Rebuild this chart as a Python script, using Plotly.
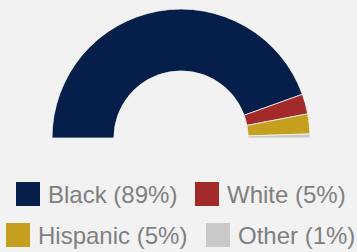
import plotly.graph_objects as go

# ---- data ----
labels = ["Black", "White", "Hispanic", "Other"]
shares = [89, 5, 5, 1]
colors = ["#061f4a", "#a32a2a", "#c4a01e", "#c9c9c9"]

W, H = 357, 252
BG = "#f2f2f2"

total = sum(shares)
widths = [s / total * 180.0 for s in shares]
centers = []
acc = 0.0
for w in widths:
    centers.append(acc + w / 2)
    acc += w

fig = go.Figure()
fig.add_trace(go.Barpolar(
    r=[1] * len(shares),
    theta=centers,
    width=widths,
    marker=dict(color=colors, line=dict(color="#f4f4f4", width=0.8)),
    text=labels,
    hoverinfo="text",
    showlegend=False,
))

# pixel helpers (legend layout)
def px(x):
    return x / W

def py(y):
    return 1 - y / H

# legend positions (square left x, row center y)
legend_pos = [(16, 194), (195, 194), (6, 235), (206, 235)]
SQ = 24
shapes = []
annotations = []
for lab, s, c, (x0, yc) in zip(labels, shares, colors, legend_pos):
    shapes.append(dict(type="rect", xref="paper", yref="paper",
                       x0=px(x0), x1=px(x0 + SQ), y0=py(yc - SQ / 2), y1=py(yc + SQ / 2),
                       fillcolor=c, line=dict(width=0), layer="above"))
    annotations.append(dict(xref="paper", yref="paper", x=px(x0 + SQ + 6), y=py(yc),
                            xanchor="left", yanchor="middle", showarrow=False,
                            text=f"{lab} ({s}%)",
                            font=dict(family="Liberation Sans, Arial, sans-serif", size=24, color="#808080")))

fig.update_layout(
    width=W, height=H,
    margin=dict(l=0, r=0, t=0, b=0),
    paper_bgcolor=BG, plot_bgcolor=BG,
    polar=dict(
        domain=dict(x=[52 / W, 310 / W], y=[1 - 138 / H, 1 - 9 / H]),
        sector=[0, 180],
        hole=0.52,
        bargap=0,
        bgcolor="rgba(0,0,0,0)",
        radialaxis=dict(visible=False, range=[0, 1]),
        angularaxis=dict(visible=False, rotation=180, direction="clockwise"),
    ),
    shapes=shapes,
    annotations=annotations,
)

fig.write_html(
    "out.html",
    config={"displayModeBar": False},
    post_script="document.body.style.margin='0';document.body.style.overflow='hidden';"
                "document.body.style.background='" + BG + "';",
)
